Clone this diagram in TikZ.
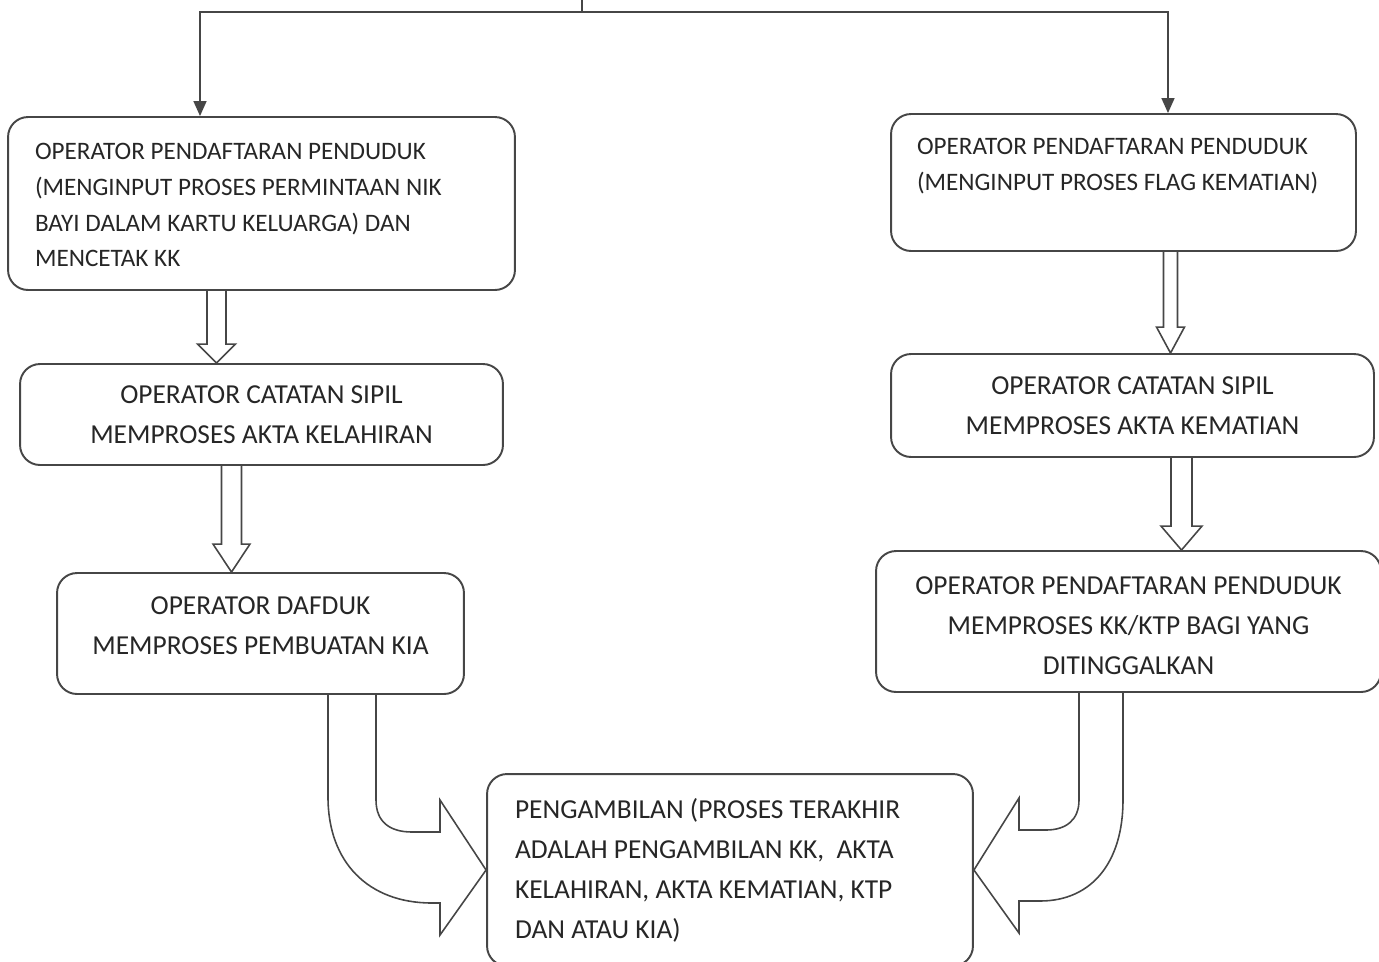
\documentclass[tikz,border=0pt]{standalone}
\usepackage{fontspec}
\setmainfont{Carlito}
\usetikzlibrary{arrows.meta,calc}
\definecolor{inkline}{RGB}{70,70,70}
\definecolor{inktext}{RGB}{38,38,38}
\newcommand\hollowdown[6]{%
  \coordinate (ax) at (#3,0);
  \draw[hollow] ($(#1.south -| ax)+(-#4,0)$) -- ($(#2.north -| ax)+(-#4,-#6)$)
    -- ($(#2.north -| ax)+(-#5,-#6)$) -- (#2.north -| ax)
    -- ($(#2.north -| ax)+(#5,-#6)$) -- ($(#2.north -| ax)+(#4,-#6)$)
    -- ($(#1.south -| ax)+(#4,0)$);}

\begin{document}
\begin{tikzpicture}[x=0.02cm,y=-0.02cm,
  box/.style={draw=inkline,line width=1.1pt,rounded corners=0.4cm,text=inktext,inner sep=0pt},
  smalltxt/.style={font=\fontsize{14.3}{20.3}\selectfont},
  bigtxt/.style={font=\fontsize{15.6}{22.8}\selectfont},
  flow/.style={draw=inkline,line width=0.9pt,-{Triangle[length=0.3cm,width=0.26cm]}},
  hollow/.style={draw=inkline,line width=0.9pt,line join=miter}]
\useasboundingbox (0,0) rectangle (1379,961);
\clip (0,0) rectangle (1379,961);

\node[box,smalltxt,minimum width=10.14cm,minimum height=3.46cm,text width=9.06cm,align=flush left] (lahirkk) at (261.5,203.5)
  {\mbox{}\\[-9pt]OPERATOR PENDAFTARAN PENDUDUK\\(MENGINPUT PROSES PERMINTAAN NIK\\BAYI DALAM KARTU KELUARGA) DAN\\MENCETAK KK};
\node[box,bigtxt,minimum width=9.66cm,minimum height=2.02cm,align=center] (capillahir) at (261.5,414.5)
  {OPERATOR CATATAN SIPIL\\MEMPROSES AKTA KELAHIRAN};
\node[box,bigtxt,minimum width=8.14cm,minimum height=2.42cm,align=center] (dafduk) at (260.5,633.5)
  {OPERATOR DAFDUK\\MEMPROSES PEMBUATAN KIA\\[-13.7pt]\mbox{}};

\node[box,smalltxt,minimum width=9.3cm,minimum height=2.74cm,text width=8.26cm,align=flush left] (matiflag) at (1123.5,182.5)
  {OPERATOR PENDAFTARAN PENDUDUK\\(MENGINPUT PROSES FLAG KEMATIAN)\\\mbox{}};
\node[box,bigtxt,minimum width=9.66cm,minimum height=2.06cm,align=center] (capilmati) at (1132.5,405.5)
  {OPERATOR CATATAN SIPIL\\MEMPROSES AKTA KEMATIAN};
\node[box,bigtxt,minimum width=10.1cm,minimum height=2.82cm,align=center] (ditinggal) at (1128.5,621.5)
  {\mbox{}\\[-8.2pt]OPERATOR PENDAFTARAN PENDUDUK\\MEMPROSES KK/KTP BAGI YANG\\DITINGGALKAN};

\node[box,bigtxt,minimum width=9.72cm,minimum height=3.84cm,text width=8.6cm,align=flush left] (ambil) at (730,870)
  {PENGAMBILAN (PROSES TERAKHIR\\ADALAH PENGAMBILAN KK,\ \ AKTA\\KELAHIRAN, AKTA KEMATIAN, KTP\\DAN ATAU KIA)};

\coordinate (top) at (582,12);
\draw[draw=inkline,line width=0.9pt] (582,-2) -- (top);
\draw[flow] (top) -| ([xshift=-1.23cm]lahirkk.north);
\draw[flow] (top) -| ([xshift=0.89cm]matiflag.north);

\hollowdown{lahirkk}{capillahir}{216.5}{9.5}{19}{19}
\hollowdown{capillahir}{dafduk}{231.5}{10}{18.5}{28}
\hollowdown{matiflag}{capilmati}{1170.5}{7}{14}{26}
\hollowdown{capilmati}{ditinggal}{1181.5}{10.5}{20.5}{24}

\draw[hollow] ($(dafduk.south)+(115.5,0)$) -- (376,800) .. controls (376,822) and (390,832) .. (412,832)
  -- (440,832) -- (440,800) -- (ambil.west) -- (440,935) -- (440,903) -- (432,903)
  .. controls (368,903) and (328,862) .. (328,797) -- ($(dafduk.south)+(67.5,0)$);
\draw[hollow] ($(ditinggal.south)+(-49.5,0)$) -- (1079,800) .. controls (1079,820) and (1066,830) .. (1046,830)
  -- (1019,830) -- (1019,798) -- (ambil.east) -- (1019,933) -- (1019,901) -- (1040,901)
  .. controls (1092,901) and (1123,862) .. (1123,800) -- ($(ditinggal.south)+(-5.5,0)$);
\end{tikzpicture}
\end{document}
